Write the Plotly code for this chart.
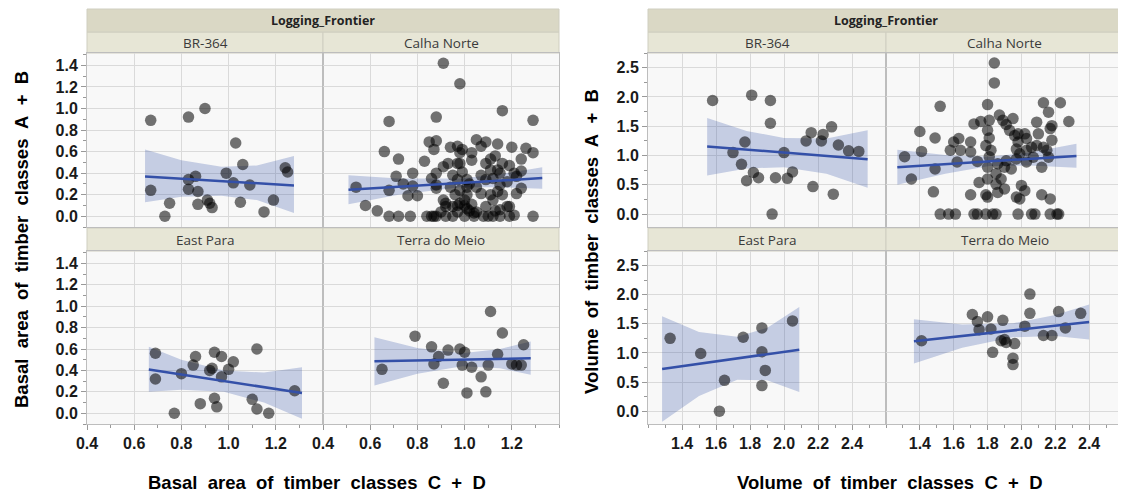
import plotly.graph_objects as go

# the page puts the plot 8px in from the top-left corner, so the figure is
# drawn 8px smaller and all pixel positions below are shifted by that offset
W, H = 1126, 495
OFF = 8
FW, FH = W - OFF, H - OFF

# ---- data ----
# basal area panel (x: classes C + D, y: classes A + B)
basal_br364 = [(0.67, 0.89), (0.83, 0.92), (0.90, 1.00), (1.03, 0.68), (1.06, 0.48), (0.67, 0.24),
               (0.83, 0.34), (0.86, 0.37), (0.83, 0.25), (0.87, 0.23), (0.75, 0.12), (0.73, 0.00),
               (0.87, 0.11), (0.91, 0.15), (0.92, 0.12), (0.93, 0.08), (0.99, 0.40), (1.02, 0.31),
               (1.09, 0.29), (1.05, 0.13), (1.19, 0.15), (1.15, 0.04), (1.24, 0.45), (1.25, 0.41)]

basal_calha = [(0.91, 1.42), (0.98, 1.23), (1.16, 0.98), (1.29, 0.89), (0.68, 0.88), (0.88, 0.92),
               (0.66, 0.60), (0.72, 0.53), (0.83, 0.51), (0.85, 0.69), (0.88, 0.70), (0.87, 0.62),
               (0.94, 0.64), (0.97, 0.65), (0.99, 0.62), (1.03, 0.59), (1.05, 0.71), (1.07, 0.65),
               (1.09, 0.69), (1.14, 0.67), (1.20, 0.64), (1.26, 0.63), (1.29, 0.59), (0.97, 0.49),
               (1.03, 0.52), (1.11, 0.53), (1.13, 0.56), (1.16, 0.49), (1.19, 0.47), (1.24, 0.53),
               (1.24, 0.42), (1.11, 0.43), (1.15, 0.40), (0.91, 0.46), (0.88, 0.40), (0.71, 0.37),
               (0.78, 0.40), (0.74, 0.30), (0.68, 0.24), (0.78, 0.28), (0.80, 0.19), (0.76, 0.19),
               (0.54, 0.27), (0.58, 0.10), (0.63, 0.05), (0.68, 0.00), (0.72, 0.00), (0.77, 0.00),
               (0.84, 0.00), (0.86, 0.00), (0.87, 0.00), (0.92, 0.00), (0.95, 0.00), (1.00, 0.00),
               (1.04, 0.00), (1.08, 0.00), (1.12, 0.00), (1.15, 0.00), (1.19, 0.00), (1.29, 0.00),
               (0.92, 0.09), (0.91, 0.15), (0.98, 0.12), (1.01, 0.20), (1.04, 0.03), (1.09, 0.09),
               (1.15, 0.06), (1.22, 0.21), (1.24, 0.26), (1.07, 0.21), (1.11, 0.20), (0.88, 0.29),
               (0.94, 0.27), (0.97, 0.34), (0.98, 0.24), (1.01, 0.27), (1.02, 0.30), (1.05, 0.27),
               (1.09, 0.34), (1.15, 0.29), (1.18, 0.32), (1.22, 0.37), (1.21, 0.40), (0.95, 0.09),
               (1.00, 0.15), (1.01, 0.07), (1.03, 0.11), (1.05, 0.04), (0.97, 0.04), (0.90, 0.04),
               (0.92, 0.12), (1.12, 0.15), (1.14, 0.23), (1.16, 0.20), (1.19, 0.09), (1.07, 0.38),
               (0.99, 0.41), (0.95, 0.38), (0.93, 0.49), (0.98, 0.49), (0.98, 0.59), (1.01, 0.34),
               (1.09, 0.49), (1.12, 0.35), (1.14, 0.43), (1.18, 0.09), (1.21, 0.01), (0.96, 0.20),
               (0.97, 0.10), (1.00, 0.10), (1.02, 0.05), (0.88, 0.00), (1.10, 0.00), (1.13, 0.05),
               (0.86, 0.35), (0.88, 0.26)]

basal_eastpara = [(0.69, 0.56), (0.69, 0.32), (0.80, 0.37), (0.77, 0.00), (0.86, 0.53), (0.85, 0.45),
                  (0.94, 0.57), (0.97, 0.53), (0.93, 0.42), (0.92, 0.40), (0.97, 0.34), (1.00, 0.41),
                  (1.02, 0.48), (1.12, 0.60), (0.88, 0.09), (0.94, 0.14), (0.95, 0.06), (1.10, 0.13),
                  (1.12, 0.04), (1.17, 0.00), (1.28, 0.21)]

basal_terra = [(0.65, 0.41), (0.79, 0.72), (0.86, 0.62), (0.89, 0.53), (0.87, 0.46), (0.93, 0.59),
               (0.91, 0.28), (0.98, 0.60), (1.00, 0.57), (0.99, 0.45), (1.03, 0.43), (1.01, 0.19),
               (1.07, 0.34), (1.09, 0.20), (1.10, 0.45), (1.11, 0.95), (1.16, 0.75), (1.14, 0.55),
               (1.20, 0.46), (1.22, 0.45), (1.24, 0.45), (1.25, 0.64)]

# volume panel
volume_br364 = [(1.58, 1.94), (1.81, 2.03), (1.92, 1.94), (1.92, 1.55), (1.77, 1.23), (1.70, 1.05),
                (1.75, 0.85), (1.78, 0.57), (1.82, 0.71), (1.85, 0.62), (1.95, 0.62), (2.02, 0.61),
                (2.05, 0.72), (2.00, 1.05), (2.13, 1.25), (2.16, 1.39), (2.22, 1.25), (2.23, 1.36),
                (2.28, 1.49), (2.32, 1.18), (2.38, 1.08), (2.44, 1.07), (2.17, 0.47), (2.29, 0.34),
                (1.93, 0.00)]

volume_calha = [(1.84, 2.58), (1.84, 2.24), (1.52, 1.84), (1.80, 1.87), (2.13, 1.90), (2.23, 1.90),
                (2.16, 1.74), (2.28, 1.58), (1.40, 1.41), (1.49, 1.30), (1.41, 1.07), (1.31, 0.98),
                (1.35, 0.60), (1.49, 0.77), (1.48, 0.38), (1.58, 1.09), (1.60, 1.23), (1.63, 1.29),
                (1.62, 0.89), (1.64, 1.09), (1.70, 1.23), (1.70, 1.06), (1.72, 1.54), (1.76, 1.58),
                (1.81, 1.60), (1.87, 1.69), (1.89, 1.60), (1.91, 1.53), (1.93, 1.43), (1.95, 1.63),
                (1.96, 1.34), (1.80, 1.43), (1.81, 1.30), (1.79, 1.17), (1.82, 1.09), (1.81, 0.98),
                (1.74, 0.90), (1.80, 0.80), (1.86, 0.86), (1.85, 0.69), (1.80, 0.60), (1.75, 0.54),
                (1.85, 0.51), (1.88, 0.60), (1.90, 0.43), (1.86, 0.37), (1.70, 0.33), (1.79, 0.33),
                (1.80, 0.29), (1.97, 0.29), (2.00, 0.49), (2.02, 0.40), (1.99, 0.26), (1.98, 1.37),
                (2.02, 1.37), (2.03, 1.29), (1.98, 1.23), (1.97, 1.11), (1.99, 1.03), (2.03, 1.09),
                (2.06, 1.14), (2.09, 1.17), (2.13, 1.14), (2.07, 0.97), (2.03, 0.89), (1.97, 0.94),
                (2.09, 1.57), (2.10, 1.37), (2.17, 1.46), (2.18, 1.51), (2.18, 1.26), (2.15, 1.09),
                (2.16, 0.97), (2.12, 0.80), (1.91, 0.91), (1.94, 0.77), (1.90, 0.80), (2.12, 0.33),
                (2.17, 0.26), (1.52, 0.00), (1.57, 0.00), (1.61, 0.00), (1.72, 0.00), (1.74, 0.00),
                (1.79, 0.00), (1.83, 0.00), (1.85, 0.00), (1.98, 0.00), (2.06, 0.00), (2.08, 0.00),
                (2.17, 0.00), (2.21, 0.00), (2.22, 0.00)]

volume_eastpara = [(1.33, 1.25), (1.51, 0.99), (1.65, 0.53), (1.62, 0.00), (1.76, 1.27), (1.87, 1.43),
                   (1.87, 1.02), (1.89, 0.70), (1.87, 0.44), (2.05, 1.55)]

volume_terra = [(1.41, 1.21), (1.71, 1.66), (1.74, 1.54), (1.75, 1.40), (1.80, 1.62), (1.82, 1.41),
                (1.83, 1.01), (1.89, 1.56), (1.88, 1.21), (1.90, 1.23), (1.91, 1.18), (1.96, 1.16),
                (1.95, 0.91), (1.95, 0.80), (2.02, 1.46), (2.05, 2.01), (2.05, 1.68), (2.13, 1.30),
                (2.18, 1.30), (2.22, 1.71), (2.26, 1.43), (2.35, 1.68)]

# fitted line and confidence band: x, fit, lower, upper
basal_br364_fit = [(0.646, 0.369, 0.13, 0.62), (0.80, 0.349, 0.18, 0.52), (0.97, 0.327, 0.19, 0.46),
                   (1.12, 0.307, 0.15, 0.47), (1.277, 0.286, 0.03, 0.56)]
basal_calha_fit = [(0.508, 0.246, 0.11, 0.38), (0.72, 0.274, 0.20, 0.35), (0.98, 0.308, 0.27, 0.35),
                   (1.15, 0.330, 0.27, 0.39), (1.329, 0.354, 0.255, 0.455)]
basal_eastpara_fit = [(0.662, 0.408, 0.20, 0.62), (0.80, 0.362, 0.22, 0.50), (0.98, 0.301, 0.20, 0.40),
                      (1.15, 0.244, 0.10, 0.38), (1.311, 0.190, -0.05, 0.43)]
basal_terra_fit = [(0.618, 0.485, 0.26, 0.71), (0.80, 0.493, 0.37, 0.61), (0.99, 0.501, 0.44, 0.56),
                   (1.15, 0.508, 0.42, 0.60), (1.28, 0.513, 0.36, 0.67)]
volume_br364_fit = [(1.548, 1.153, 0.66, 1.64), (1.78, 1.100, 0.78, 1.42), (2.0, 1.050, 0.80, 1.30),
                    (2.25, 0.993, 0.69, 1.29), (2.492, 0.938, 0.45, 1.43)]
volume_calha_fit = [(1.267, 0.800, 0.50, 1.10), (1.55, 0.852, 0.69, 1.01), (1.81, 0.900, 0.82, 0.98),
                    (2.05, 0.944, 0.83, 1.05), (2.325, 0.994, 0.79, 1.20)]
volume_eastpara_fit = [(1.283, 0.725, -0.18, 1.63), (1.5, 0.814, 0.26, 1.36), (1.725, 0.906, 0.54, 1.28),
                       (1.9, 0.978, 0.53, 1.43), (2.09, 1.056, 0.33, 1.79)]
volume_terra_fit = [(1.365, 1.200, 0.82, 1.58), (1.65, 1.290, 1.09, 1.49), (1.95, 1.386, 1.27, 1.51),
                    (2.2, 1.466, 1.29, 1.65), (2.40, 1.530, 1.23, 1.83)]

facet_names = ["BR-364", "Calha Norte", "East Para", "Terra do Meio"]
basal_ticks = [0.4, 0.6, 0.8, 1.0, 1.2]
volume_ticks = [1.4, 1.6, 1.8, 2.0, 2.2, 2.4]

# ---- layout helpers (screen pixels -> paper) ----
def fx(p):
    return (p - OFF) / FW

def fy(p):
    return 1 - (p - OFF) / FH

cols = {"basal": [(87, 323), (323, 559)], "volume": [(648, 886), (886, 1123)]}
rows = [(53, 227), (251, 424)]

panels = [
    ("basal", [basal_br364, basal_calha, basal_eastpara, basal_terra],
     [basal_br364_fit, basal_calha_fit, basal_eastpara_fit, basal_terra_fit],
     [0.4, 1.4], [-0.1, 1.515], basal_ticks, 0.2, 0.1),
    ("volume", [volume_br364, volume_calha, volume_eastpara, volume_terra],
     [volume_br364_fit, volume_calha_fit, volume_eastpara_fit, volume_terra_fit],
     [1.2, 2.6], [-0.22, 2.75], volume_ticks, 0.5, 0.25),
]

tick_font = dict(family="Liberation Sans, Arial", size=16, color="#1a1a1a", weight="bold")
dot_color = "rgba(0,0,0,0.55)"
line_color = "#3450a8"
band_color = "rgba(52,80,168,0.26)"

fig = go.Figure()
shapes = []
annotations = []

def note(x, y, text, font, angle=0):
    annotations.append(dict(x=fx(x), y=fy(y), xref="paper", yref="paper", text=text,
                            showarrow=False, xanchor="center", yanchor="middle",
                            textangle=angle, font=font))

k = 0
for name, pts_list, fit_list, xr, yr, xt, ydt, yminor in panels:
    for i in range(4):
        k += 1
        r, c = divmod(i, 2)
        x0, x1 = cols[name][c]
        y0, y1 = rows[r]
        xa, ya = "x%d" % k, "y%d" % k
        pts = pts_list[i]
        fit = fit_list[i]

        bx = [f[0] for f in fit]
        lo = [f[2] for f in fit]
        hi = [f[3] for f in fit]
        fig.add_trace(go.Scatter(x=bx + bx[::-1], y=hi + lo[::-1], fill="toself", mode="lines",
                                 line=dict(width=0), fillcolor=band_color, hoverinfo="skip",
                                 xaxis=xa, yaxis=ya, showlegend=False))
        fig.add_trace(go.Scatter(x=[p[0] for p in pts], y=[p[1] for p in pts], mode="markers",
                                 marker=dict(size=11.5, color=dot_color, line=dict(width=0)),
                                 xaxis=xa, yaxis=ya, showlegend=False))
        fig.add_trace(go.Scatter(x=bx, y=[f[1] for f in fit], mode="lines",
                                 line=dict(color=line_color, width=2.5),
                                 xaxis=xa, yaxis=ya, showlegend=False))

        sfx = "" if k == 1 else str(k)
        fig.layout["xaxis" + sfx] = dict(
            domain=[fx(x0), fx(x1)], anchor=ya, range=xr, tickmode="array", tickvals=xt,
            tickformat=".1f", showticklabels=(r == 1), ticks="outside" if r == 1 else "",
            ticklen=5, tickcolor="#999", tickfont=tick_font, automargin=False,
            minor=dict(ticks="outside" if r == 1 else "", ticklen=3, tickcolor="#999",
                       dtick=0.1, tick0=0, showgrid=False),
            showgrid=True, gridcolor="#dadada", gridwidth=1, zeroline=False,
            showline=True, mirror=True, linecolor="#bdbdbd", linewidth=1, fixedrange=True)
        fig.layout["yaxis" + sfx] = dict(
            domain=[fy(y1), fy(y0)], anchor=xa, range=yr, tick0=0, dtick=ydt,
            tickformat=".1f", showticklabels=(c == 0), ticks="outside" if c == 0 else "",
            ticklen=5, tickcolor="#999", tickfont=tick_font, automargin=False,
            minor=dict(ticks="outside" if c == 0 else "", ticklen=3, tickcolor="#999",
                       dtick=yminor, tick0=0, showgrid=False),
            showgrid=True, gridcolor="#dadada", gridwidth=1, zeroline=False,
            showline=True, mirror=True, linecolor="#bdbdbd", linewidth=1, fixedrange=True)

        # facet strip
        sy0 = 32 if r == 0 else 228
        sy1 = y0
        shapes.append(dict(type="rect", xref="paper", yref="paper", x0=fx(x0), x1=fx(x1),
                           y0=fy(sy1), y1=fy(sy0), fillcolor="#e7e6d6",
                           line=dict(color="#cfcec0", width=1), layer="below"))
        note((x0 + x1) / 2, (sy0 + sy1) / 2, facet_names[i],
             dict(family="Open Sans", size=13.5, color="#3a3a3a"))

    # top header
    hx0, hx1 = cols[name][0][0], cols[name][1][1]
    shapes.append(dict(type="rect", xref="paper", yref="paper", x0=fx(hx0), x1=fx(hx1),
                       y0=fy(32), y1=fy(9), fillcolor="#dad8c5",
                       line=dict(color="#cfcec0", width=1), layer="below"))
    note((hx0 + hx1) / 2, 20.5, "Logging_Frontier",
         dict(family="Open Sans", size=12.5, color="#222", weight="bold"))

title_font = dict(family="Liberation Sans, Arial", size=18.5, color="#000", weight="bold")
sp = "&nbsp; "
note(22, 240, sp.join(["Basal", "area", "of", "timber", "classes", "A", "+", "B"]), title_font, -90)
note(317, 482, sp.join(["Basal", "area", "of", "timber", "classes", "C", "+", "D"]), title_font)
note(591, 242, sp.join(["Volume", "of", "timber", "classes", "A", "+", "B"]), title_font, -90)
note(890, 482, sp.join(["Volume", "of", "timber", "classes", "C", "+", "D"]), title_font)

fig.update_layout(template="none", width=FW, height=FH, margin=dict(l=0, r=0, t=0, b=0, pad=0),
                  paper_bgcolor="white", plot_bgcolor="#f8f8f8",
                  shapes=shapes, annotations=annotations, showlegend=False)

fig.write_html("out.html")
